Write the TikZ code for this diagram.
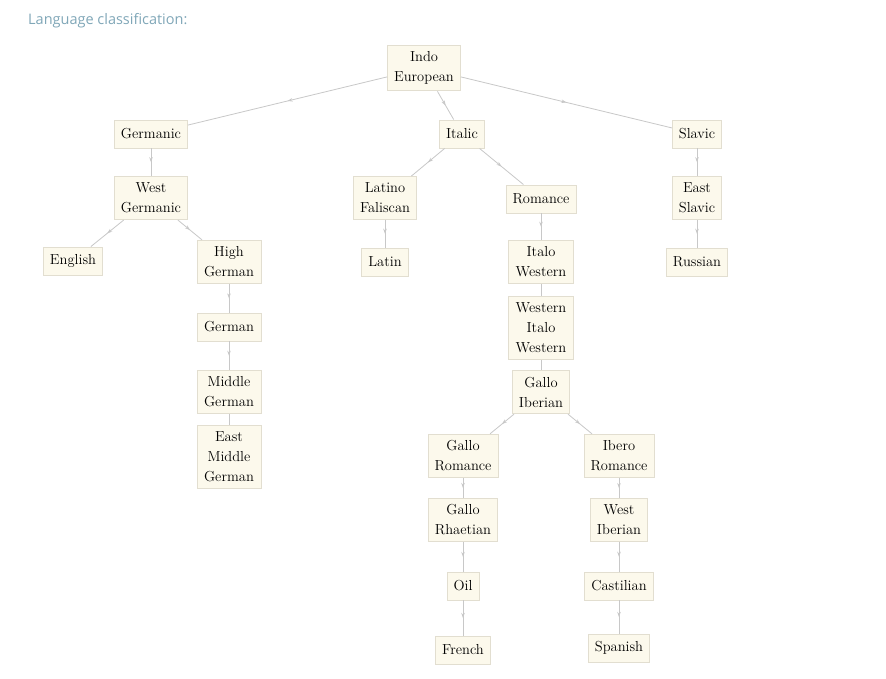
\documentclass[tikz,border=0pt]{standalone}
\usepackage{fontspec}
\usetikzlibrary{arrows.meta,decorations.markings}
\newfontfamily\titlefont{Open Sans}
\definecolor{boxfill}{RGB}{252,249,236}
\definecolor{boxline}{RGB}{226,222,208}
\definecolor{edgegray}{RGB}{200,200,200}
\definecolor{titleblue}{RGB}{128,167,184}

\begin{document}
\begin{tikzpicture}[x=1pt,y=-1pt,
  lang/.style={draw=boxline,fill=boxfill,line width=0.9pt,align=center,
    inner xsep=6.5pt,inner ysep=6.5pt,minimum height=28pt,
    font=\fontsize{14.5}{20}\selectfont},
  link/.style={draw=edgegray,line width=0.8pt},
  edge/.style={link,postaction={decorate},decoration={markings,
    mark=at position 0.5 with {\arrow[edgegray]{Stealth[length=5pt,width=3.5pt]}}}}]
  \useasboundingbox[fill=white] (0,0) rectangle (886,679);
  \node[anchor=west,inner sep=0pt,text=titleblue,font=\titlefont\fontsize{14.5}{17}\selectfont] (title) at (28,21) {Language classification:};

  % top levels
  \node[lang] (indo) at (424,68) {Indo\\European};
  \node[lang] (germanic) at (151,134) {Germanic};
  \node[lang] (italic) at (462,134) {Italic};
  \node[lang] (slavic) at (697,134) {Slavic};

  % germanic branch
  \node[lang] (westgerm) at (151,198) {West\\Germanic};
  \node[lang] (english) at (73,261) {English};
  \node[lang,minimum width=64pt] (highgerm) at (229,262) {High\\German};
  \node[lang,minimum width=64pt] (german) at (229,327) {German};
  \node[lang,minimum width=64pt] (midgerm) at (229,392) {Middle\\German};
  \node[lang,minimum width=64pt] (eastmidgerm) at (229,457) {East\\Middle\\German};

  % italic branch
  \node[lang] (latfal) at (385,198) {Latino\\Faliscan};
  \node[lang] (latin) at (385,262) {Latin};
  \node[lang] (romance) at (541,199) {Romance};
  \node[lang,minimum width=65pt] (italowest) at (541,262) {Italo\\Western};
  \node[lang,minimum width=65pt] (westitalo) at (541,328) {Western\\Italo\\Western};
  \node[lang] (galloib) at (541,392) {Gallo\\Iberian};
  \node[lang] (galloro) at (463,456) {Gallo\\Romance};
  \node[lang] (iberoro) at (619,456) {Ibero\\Romance};
  \node[lang] (gallorh) at (463,520) {Gallo\\Rhaetian};
  \node[lang] (westib) at (619,520) {West\\Iberian};
  \node[lang] (oil) at (463,586) {Oil};
  \node[lang] (castilian) at (619,586) {Castilian};
  \node[lang] (french) at (463,650) {French};
  \node[lang] (spanish) at (619,648) {Spanish};

  % slavic branch
  \node[lang] (eastslav) at (697,198) {East\\Slavic};
  \node[lang] (russian) at (697,262) {Russian};

  \draw[edge] (indo) -- (germanic);
  \draw[edge] (indo) -- (italic);
  \draw[edge] (indo) -- (slavic);
  \draw[edge] (germanic) -- (westgerm);
  \draw[edge] (westgerm) -- (english);
  \draw[edge] (westgerm) -- (highgerm);
  \draw[edge] (highgerm) -- (german);
  \draw[edge] (german) -- (midgerm);
  \draw[link] (midgerm) -- (eastmidgerm);
  \draw[edge] (italic) -- (latfal);
  \draw[edge] (italic) -- (romance);
  \draw[edge] (latfal) -- (latin);
  \draw[edge] (romance) -- (italowest);
  \draw[link] (italowest) -- (westitalo);
  \draw[link] (westitalo) -- (galloib);
  \draw[edge] (galloib) -- (galloro);
  \draw[edge] (galloib) -- (iberoro);
  \draw[edge] (galloro) -- (gallorh);
  \draw[edge] (gallorh) -- (oil);
  \draw[edge] (oil) -- (french);
  \draw[edge] (iberoro) -- (westib);
  \draw[edge] (westib) -- (castilian);
  \draw[edge] (castilian) -- (spanish);
  \draw[edge] (slavic) -- (eastslav);
  \draw[edge] (eastslav) -- (russian);
\end{tikzpicture}
\end{document}
